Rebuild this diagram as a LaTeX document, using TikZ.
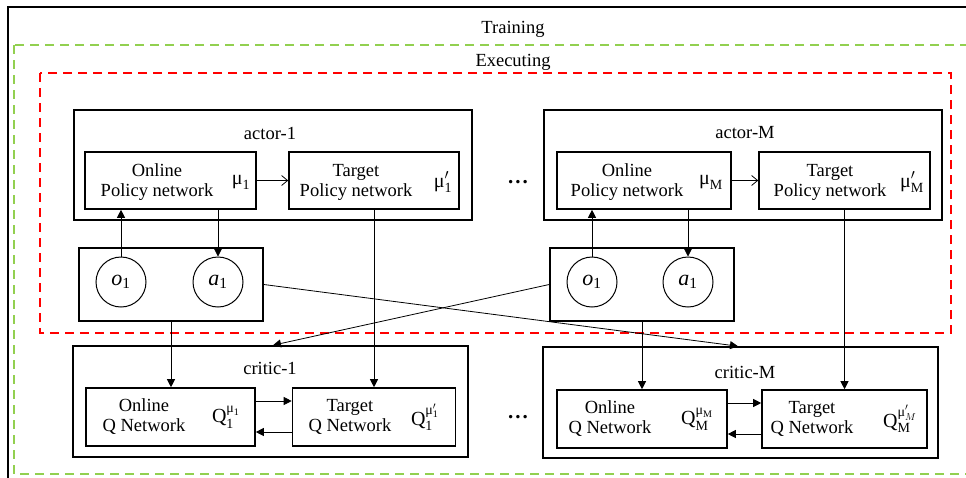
\documentclass[tikz,border=0pt]{standalone}
\usepackage{fontspec}
\usepackage{amsmath}
\setmainfont{Liberation Serif}
\usetikzlibrary{arrows.meta}
\definecolor{exgreen}{RGB}{146,208,80}
\definecolor{exred}{RGB}{255,0,0}
\begin{document}
\begin{tikzpicture}[x=1pt,y=-1pt,
  box/.style={draw,line width=1.6pt,inner sep=0pt},
  txt/.style={font=\fontsize{18.5}{20}\selectfont,inner sep=0pt,align=center},
  sym/.style={font=\fontsize{20}{20}\selectfont,inner sep=0pt},
  dotsty/.style={font=\fontsize{21}{21}\selectfont\bfseries,inner sep=0pt},
  circ/.style={draw,circle,line width=1pt,minimum size=50pt,inner sep=0pt,font=\fontsize{22}{22}\selectfont},
  conn/.style={line width=0.8pt},
  arr/.style={conn,-{Triangle[length=8pt,width=8pt]}},
  openarr/.style={conn,-{Straight Barb[length=6pt,width=10pt,line width=0.8pt]}},
  gdash/.style={draw=exgreen,line width=1.8pt,dash pattern=on 9pt off 6pt},
  rdash/.style={draw=exred,line width=1.8pt,dash pattern=on 9pt off 6pt}]
\clip (0,0) rectangle (966,477);
% frames
\draw[line width=1.2pt] (8,7) rectangle (985,495);
\node[txt] (training) at (513,29) {Training};
\draw[gdash] (14,45) rectangle (985,474);
\node[txt] (executing) at (513,62) {Executing};
\draw[rdash] (40,73) rectangle (951,333);

% actor-1
\node[box,minimum width=398,minimum height=110] (actor1) at (273,165) {};
\node[txt] (actor1l) at (270,133) {actor-1};
\node[box,minimum width=171,minimum height=57] (on1) at (170.5,180.5) {};
\node[txt] (on1t) at (157,182) {Online\\Policy network};
\node[sym] (mu1) at (241,182) {$\text{μ}_{\text{1}}$};
\node[box,minimum width=170,minimum height=57] (tg1) at (374,180.5) {};
\node[txt] (tg1t) at (356,182) {Target\\Policy network};
\node[sym] (mu1p) at (443,182) {$\text{μ}'_{\text{1}}$};

% actor-M
\node[box,minimum width=398,minimum height=110] (actorM) at (743,165) {};
\node[txt] (actorMl) at (745,133) {actor-M};
\node[box,minimum width=174,minimum height=57] (onM) at (644,180.5) {};
\node[txt] (onMt) at (627,182) {Online\\Policy network};
\node[sym] (muM) at (711,182) {$\text{μ}_{\text{M}}$};
\node[box,minimum width=171,minimum height=57] (tgM) at (844.5,180.5) {};
\node[txt] (tgMt) at (830,182) {Target\\Policy network};
\node[sym] (muMp) at (912,182) {$\text{μ}'_{\text{M}}$};

% observation boxes
\node[box,minimum width=184,minimum height=73] (obs1) at (171,284.5) {};
\node[circ] (o1) at (121,282) {$\textit{o}_{\text{1}}$};
\node[circ] (a1) at (218,282) {$\textit{a}_{\text{1}}$};
\node[box,minimum width=184,minimum height=73] (obsM) at (642,284.5) {};
\node[circ] (oM) at (592,282) {$\textit{o}_{\text{1}}$};
\node[circ] (aM) at (688,282) {$\textit{a}_{\text{1}}$};

% critic-1
\node[box,minimum width=395,minimum height=111] (critic1) at (270.5,401.5) {};
\node[txt] (critic1l) at (270,368) {critic-1};
\node[box,minimum width=169,minimum height=58] (qon1) at (170.5,417) {};
\node[txt] (qon1t) at (144,417) {Online\\Q Network};
\node[sym] (q1) at (226,417) {$\text{Q}^{\text{μ}_{\text{1}}}_{\text{1}}$};
\node[box,minimum width=163,minimum height=58] (qtg1) at (374,417) {};
\node[txt] (qtg1t) at (350,417) {Target\\Q Network};
\node[sym] (q1p) at (425,417) {$\text{Q}^{\text{μ}'_{\text{1}}}_{\text{1}}$};

% critic-M
\node[box,minimum width=395,minimum height=111] (criticM) at (740.5,402.5) {};
\node[txt] (criticMl) at (745,372) {critic-M};
\node[box,minimum width=170,minimum height=58] (qonM) at (642,419) {};
\node[txt] (qonMt) at (610,419) {Online\\Q Network};
\node[sym] (qM) at (697,419) {$\text{Q}^{\text{μ}_{\text{M}}}_{\text{M}}$};
\node[box,minimum width=165,minimum height=58] (qtgM) at (844.5,419) {};
\node[txt] (qtgMt) at (812,419) {Target\\Q Network};
\node[sym] (qMp) at (900,419) {$\text{Q}^{\text{μ}'_{M}}_{\text{M}}$};

% dots
\node[dotsty] (dots1) at (518,182) {.\hspace{2pt}.\hspace{2pt}.};
\node[dotsty] (dots2) at (518,417) {.\hspace{2pt}.\hspace{2pt}.};

% connectors actor side
\draw[arr] (o1.north) -- (o1.north |- on1.south);
\draw[arr] (a1.north |- on1.south) -- (a1.north);
\draw[openarr] (on1.east) -- (tg1.west);
\draw[arr] (oM.north) -- (oM.north |- onM.south);
\draw[arr] (aM.north |- onM.south) -- (aM.north);
\draw[openarr] (onM.east) -- (tgM.west);

% to critics
\draw[arr] (obs1.south) -- (obs1.south |- qon1.north);
\draw[arr] (tg1.south) -- (tg1.south |- qtg1.north);
\draw[arr] (obsM.south) -- (obsM.south |- qonM.north);
\draw[arr] (tgM.south) -- (tgM.south |- qtgM.north);
\draw[arr] (obs1.east) -- ([xshift=-2.5pt]criticM.north);
\draw[arr] (obsM.west) -- ([xshift=2.5pt]critic1.north);

% critic internal
\draw[arr] ([yshift=16pt]qon1.east) -- ([yshift=16pt]qon1.east -| qtg1.west);
\draw[arr] ([yshift=-15pt]qtg1.west) -- ([yshift=-15pt]qtg1.west -| qon1.east);
\draw[arr] ([yshift=16pt]qonM.east) -- ([yshift=16pt]qonM.east -| qtgM.west);
\draw[arr] ([yshift=-15pt]qtgM.west) -- ([yshift=-15pt]qtgM.west -| qonM.east);
\end{tikzpicture}
\end{document}
